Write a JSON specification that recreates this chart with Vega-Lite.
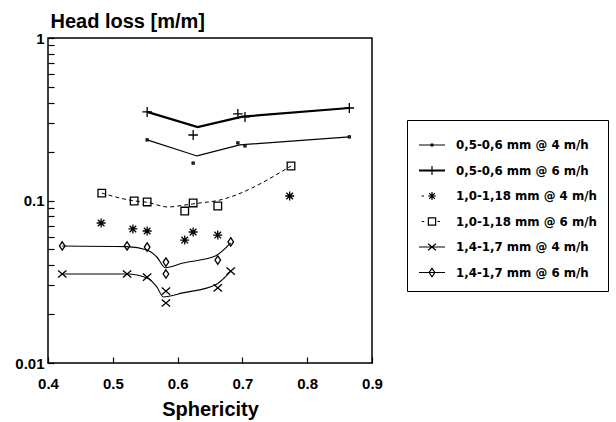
{
  "$schema": "https://vega.github.io/schema/vega-lite/v6.json",
  "width": 324,
  "height": 325,
  "autosize": "none",
  "padding": {"left": 48, "top": 38, "right": 244, "bottom": 59},
  "background": "white",
  "config": {
    "view": {"stroke": "black", "strokeWidth": 1.5},
    "font": "Liberation Sans"
  },
  "datasets": {
    "pts": [
      {"s": "0,5-0,6 mm @ 4 m/h", "x": 0.553, "y": 0.236},
      {"s": "0,5-0,6 mm @ 4 m/h", "x": 0.624, "y": 0.170},
      {"s": "0,5-0,6 mm @ 4 m/h", "x": 0.693, "y": 0.226},
      {"s": "0,5-0,6 mm @ 4 m/h", "x": 0.704, "y": 0.217},
      {"s": "0,5-0,6 mm @ 4 m/h", "x": 0.865, "y": 0.246},
      {"s": "0,5-0,6 mm @ 6 m/h", "x": 0.553, "y": 0.351},
      {"s": "0,5-0,6 mm @ 6 m/h", "x": 0.624, "y": 0.253},
      {"s": "0,5-0,6 mm @ 6 m/h", "x": 0.693, "y": 0.341},
      {"s": "0,5-0,6 mm @ 6 m/h", "x": 0.704, "y": 0.327},
      {"s": "0,5-0,6 mm @ 6 m/h", "x": 0.865, "y": 0.371},
      {"s": "1,0-1,18 mm @ 4 m/h", "x": 0.482, "y": 0.0727},
      {"s": "1,0-1,18 mm @ 4 m/h", "x": 0.531, "y": 0.0668},
      {"s": "1,0-1,18 mm @ 4 m/h", "x": 0.553, "y": 0.0649},
      {"s": "1,0-1,18 mm @ 4 m/h", "x": 0.611, "y": 0.0571},
      {"s": "1,0-1,18 mm @ 4 m/h", "x": 0.624, "y": 0.0640},
      {"s": "1,0-1,18 mm @ 4 m/h", "x": 0.662, "y": 0.0613},
      {"s": "1,0-1,18 mm @ 4 m/h", "x": 0.773, "y": 0.1066},
      {"s": "1,0-1,18 mm @ 6 m/h", "x": 0.483, "y": 0.111},
      {"s": "1,0-1,18 mm @ 6 m/h", "x": 0.533, "y": 0.0993},
      {"s": "1,0-1,18 mm @ 6 m/h", "x": 0.553, "y": 0.098},
      {"s": "1,0-1,18 mm @ 6 m/h", "x": 0.611, "y": 0.0861},
      {"s": "1,0-1,18 mm @ 6 m/h", "x": 0.624, "y": 0.0966},
      {"s": "1,0-1,18 mm @ 6 m/h", "x": 0.662, "y": 0.0925},
      {"s": "1,0-1,18 mm @ 6 m/h", "x": 0.775, "y": 0.163},
      {"s": "1,4-1,7 mm @ 4 m/h", "x": 0.422, "y": 0.0353},
      {"s": "1,4-1,7 mm @ 4 m/h", "x": 0.522, "y": 0.0353},
      {"s": "1,4-1,7 mm @ 4 m/h", "x": 0.553, "y": 0.0338},
      {"s": "1,4-1,7 mm @ 4 m/h", "x": 0.582, "y": 0.0277},
      {"s": "1,4-1,7 mm @ 4 m/h", "x": 0.582, "y": 0.0234},
      {"s": "1,4-1,7 mm @ 4 m/h", "x": 0.662, "y": 0.0290},
      {"s": "1,4-1,7 mm @ 4 m/h", "x": 0.682, "y": 0.0368},
      {"s": "1,4-1,7 mm @ 6 m/h", "x": 0.422, "y": 0.0525},
      {"s": "1,4-1,7 mm @ 6 m/h", "x": 0.522, "y": 0.0525},
      {"s": "1,4-1,7 mm @ 6 m/h", "x": 0.553, "y": 0.0517},
      {"s": "1,4-1,7 mm @ 6 m/h", "x": 0.582, "y": 0.0418},
      {"s": "1,4-1,7 mm @ 6 m/h", "x": 0.582, "y": 0.0353},
      {"s": "1,4-1,7 mm @ 6 m/h", "x": 0.662, "y": 0.0430},
      {"s": "1,4-1,7 mm @ 6 m/h", "x": 0.682, "y": 0.0556}
    ],
    "fit": [
      {"s": "0,5-0,6 mm @ 4 m/h", "x": 0.553, "y": 0.236},
      {"s": "0,5-0,6 mm @ 4 m/h", "x": 0.630, "y": 0.188},
      {"s": "0,5-0,6 mm @ 4 m/h", "x": 0.696, "y": 0.220},
      {"s": "0,5-0,6 mm @ 4 m/h", "x": 0.865, "y": 0.246},
      {"s": "0,5-0,6 mm @ 6 m/h", "x": 0.553, "y": 0.351},
      {"s": "0,5-0,6 mm @ 6 m/h", "x": 0.631, "y": 0.283},
      {"s": "0,5-0,6 mm @ 6 m/h", "x": 0.700, "y": 0.328},
      {"s": "0,5-0,6 mm @ 6 m/h", "x": 0.865, "y": 0.371},
      {"s": "1,0-1,18 mm @ 6 m/h", "x": 0.483, "y": 0.111},
      {"s": "1,0-1,18 mm @ 6 m/h", "x": 0.533, "y": 0.0995},
      {"s": "1,0-1,18 mm @ 6 m/h", "x": 0.553, "y": 0.0975},
      {"s": "1,0-1,18 mm @ 6 m/h", "x": 0.585, "y": 0.0912},
      {"s": "1,0-1,18 mm @ 6 m/h", "x": 0.611, "y": 0.0938},
      {"s": "1,0-1,18 mm @ 6 m/h", "x": 0.635, "y": 0.0966},
      {"s": "1,0-1,18 mm @ 6 m/h", "x": 0.658, "y": 0.0993},
      {"s": "1,0-1,18 mm @ 6 m/h", "x": 0.775, "y": 0.163},
      {"s": "1,4-1,7 mm @ 4 m/h", "x": 0.422, "y": 0.0353},
      {"s": "1,4-1,7 mm @ 4 m/h", "x": 0.522, "y": 0.0353},
      {"s": "1,4-1,7 mm @ 4 m/h", "x": 0.553, "y": 0.0334},
      {"s": "1,4-1,7 mm @ 4 m/h", "x": 0.568, "y": 0.0294},
      {"s": "1,4-1,7 mm @ 4 m/h", "x": 0.578, "y": 0.0255},
      {"s": "1,4-1,7 mm @ 4 m/h", "x": 0.608, "y": 0.0270},
      {"s": "1,4-1,7 mm @ 4 m/h", "x": 0.658, "y": 0.0302},
      {"s": "1,4-1,7 mm @ 4 m/h", "x": 0.682, "y": 0.0368},
      {"s": "1,4-1,7 mm @ 6 m/h", "x": 0.422, "y": 0.0525},
      {"s": "1,4-1,7 mm @ 6 m/h", "x": 0.522, "y": 0.0520},
      {"s": "1,4-1,7 mm @ 6 m/h", "x": 0.553, "y": 0.0496},
      {"s": "1,4-1,7 mm @ 6 m/h", "x": 0.568, "y": 0.0449},
      {"s": "1,4-1,7 mm @ 6 m/h", "x": 0.581, "y": 0.0386},
      {"s": "1,4-1,7 mm @ 6 m/h", "x": 0.608, "y": 0.0412},
      {"s": "1,4-1,7 mm @ 6 m/h", "x": 0.658, "y": 0.0455},
      {"s": "1,4-1,7 mm @ 6 m/h", "x": 0.682, "y": 0.0548}
    ],
    "leg": [
      {"s": "0,5-0,6 mm @ 4 m/h"},
      {"s": "0,5-0,6 mm @ 6 m/h"},
      {"s": "1,0-1,18 mm @ 4 m/h"},
      {"s": "1,0-1,18 mm @ 6 m/h"},
      {"s": "1,4-1,7 mm @ 4 m/h"},
      {"s": "1,4-1,7 mm @ 6 m/h"}
    ]
  },
  "encoding": {
    "x": {
      "field": "x", "type": "quantitative",
      "scale": {"domain": [0.4, 0.9], "nice": false, "zero": false},
      "axis": {
        "title": "Sphericity",
        "values": [0.4, 0.5, 0.6, 0.7, 0.8, 0.9],
        "format": ".1f",
        "grid": false,
        "domain": false,
        "tickSize": -6,
        "tickColor": "black",
        "tickWidth": 1.2,
        "labelFont": "Liberation Sans",
        "labelFontWeight": "bold",
        "labelFontSize": 15,
        "labelColor": "black",
        "labelPadding": 19,
        "labelBaseline": "top",
        "labelFlush": false,
        "labelOverlap": false,
        "titleFont": "Liberation Sans",
        "titleFontSize": 20,
        "titleFontWeight": "bold",
        "titleColor": "black",
        "titleY": 52,
        "titleBaseline": "alphabetic"
      }
    },
    "y": {
      "field": "y", "type": "quantitative",
      "scale": {"type": "log", "domain": [0.01, 1], "nice": false},
      "axis": {
        "title": "Head loss [m/m]",
        "titleAngle": 0,
        "titleAlign": "left",
        "titleBaseline": "alphabetic",
        "titleX": 2,
        "titleY": -10.5,
        "titleFont": "Liberation Sans",
        "titleFontSize": 20,
        "titleFontWeight": "bold",
        "titleColor": "black",
        "values": [0.01, 0.02, 0.03, 0.04, 0.05, 0.06, 0.07, 0.08, 0.09, 0.1, 0.2, 0.3, 0.4, 0.5, 0.6, 0.7, 0.8, 0.9, 1],
        "labelExpr": "datum.value == 0.01 ? '0.01' : datum.value == 0.1 ? '0.1' : datum.value == 1 ? '1' : ''",
        "grid": false,
        "domain": false,
        "tickSize": -6,
        "tickColor": "black",
        "tickWidth": 1.2,
        "labelFont": "Liberation Sans",
        "labelFontWeight": "bold",
        "labelFontSize": 15,
        "labelColor": "black",
        "labelPadding": 10,
        "labelOverlap": false,
        "labelFlush": false
      }
    }
  },
  "layer": [
    {
      "data": {"values": [{}]},
      "mark": {"type": "rule", "color": "black", "strokeWidth": 1.3},
      "encoding": {"x": null, "y": {"datum": 0.1}}
    },
    {
      "data": {"name": "fit"},
      "transform": [{"filter": {"field": "s", "equal": "0,5-0,6 mm @ 4 m/h"}}],
      "mark": {"type": "line", "color": "black", "strokeWidth": 1.2},
      "encoding": {"detail": {"field": "s"}}
    },
    {
      "data": {"name": "fit"},
      "transform": [{"filter": {"field": "s", "equal": "0,5-0,6 mm @ 6 m/h"}}],
      "mark": {"type": "line", "color": "black", "strokeWidth": 2.2},
      "encoding": {"detail": {"field": "s"}}
    },
    {
      "data": {"name": "fit"},
      "transform": [{"filter": {"field": "s", "equal": "1,0-1,18 mm @ 6 m/h"}}],
      "mark": {"type": "line", "color": "black", "strokeWidth": 1, "strokeDash": [4, 3], "interpolate": "monotone"},
      "encoding": {"detail": {"field": "s"}}
    },
    {
      "data": {"name": "fit"},
      "transform": [{"filter": {"field": "s", "oneOf": ["1,4-1,7 mm @ 4 m/h", "1,4-1,7 mm @ 6 m/h"]}}],
      "mark": {"type": "line", "color": "black", "strokeWidth": 1.1, "interpolate": "monotone"},
      "encoding": {"detail": {"field": "s"}}
    },
    {
      "data": {"name": "pts"},
      "mark": {"type": "point", "filled": false, "color": "black", "strokeWidth": 1.3, "size": 400, "opacity": 1},
      "encoding": {
        "shape": {
          "field": "s", "type": "nominal",
          "scale": {
            "domain": ["0,5-0,6 mm @ 4 m/h", "0,5-0,6 mm @ 6 m/h", "1,0-1,18 mm @ 4 m/h", "1,0-1,18 mm @ 6 m/h", "1,4-1,7 mm @ 4 m/h", "1,4-1,7 mm @ 6 m/h"],
            "range": [
              "M-0.1,-0.1H0.1V0.1H-0.1Z",
              "M-0.48,0H0.48M0,-0.5V0.5",
              "M-0.45,0H0.45M0,-0.45V0.45M-0.33,-0.33L0.33,0.33M-0.33,0.33L0.33,-0.33",
              "M-0.38,-0.38H0.38V0.38H-0.38Z",
              "M-0.42,-0.36L0.42,0.36M-0.42,0.36L0.42,-0.36",
              "M0,-0.42L0.28,0L0,0.42L-0.28,0Z"
            ]
          },
          "legend": null
        }
      }
    },
    {
      "data": {"name": "leg"},
      "mark": {"type": "point", "filled": false, "color": "black", "strokeWidth": 1.2, "size": 676, "opacity": 1},
      "encoding": {
        "shape": {
          "field": "s", "type": "nominal",
          "scale": {
            "domain": ["0,5-0,6 mm @ 4 m/h", "0,5-0,6 mm @ 6 m/h", "1,0-1,18 mm @ 4 m/h", "1,0-1,18 mm @ 6 m/h", "1,4-1,7 mm @ 4 m/h", "1,4-1,7 mm @ 6 m/h"],
            "range": [
              "M-1,0H1M-0.06,-0.06H0.06V0.06H-0.06Z",
              "M-1,-0.03H1M-1,0.03H1M0,-0.35V0.35",
              "M-0.8,0H-0.62M-0.3,0H0.3M0,-0.3V0.3M-0.22,-0.22L0.22,0.22M-0.22,0.22L0.22,-0.22",
              "M-0.8,0H-0.6M0.42,0H0.62M-0.28,-0.28H0.28V0.28H-0.28Z",
              "M-1,0H1M-0.3,-0.25L0.3,0.25M-0.3,0.25L0.3,-0.25",
              "M-1,0H1M0,-0.33L0.22,0L0,0.33L-0.22,0Z"
            ]
          },
          "legend": {
            "title": null,
            "orient": "none",
            "legendX": 359,
            "legendY": 82,
            "symbolSize": 676,
            "symbolStrokeWidth": 1.2,
            "symbolStrokeColor": "black",
            "symbolOpacity": 1,
            "labelFont": "DejaVu Sans",
            "labelFontWeight": "bold",
            "labelFontSize": 11.8,
            "labelColor": "black",
            "labelOffset": 10,
            "labelLimit": 300,
            "strokeColor": "black",
            "fillColor": "white",
            "padding": 11,
            "rowPadding": 4.5,
            "cornerRadius": 0,
            "encode": {"legend": {"update": {"strokeWidth": {"value": 1.3}}}}
          }
        }
      }
    }
  ],
  "resolve": {"scale": {"shape": "independent"}}
}
